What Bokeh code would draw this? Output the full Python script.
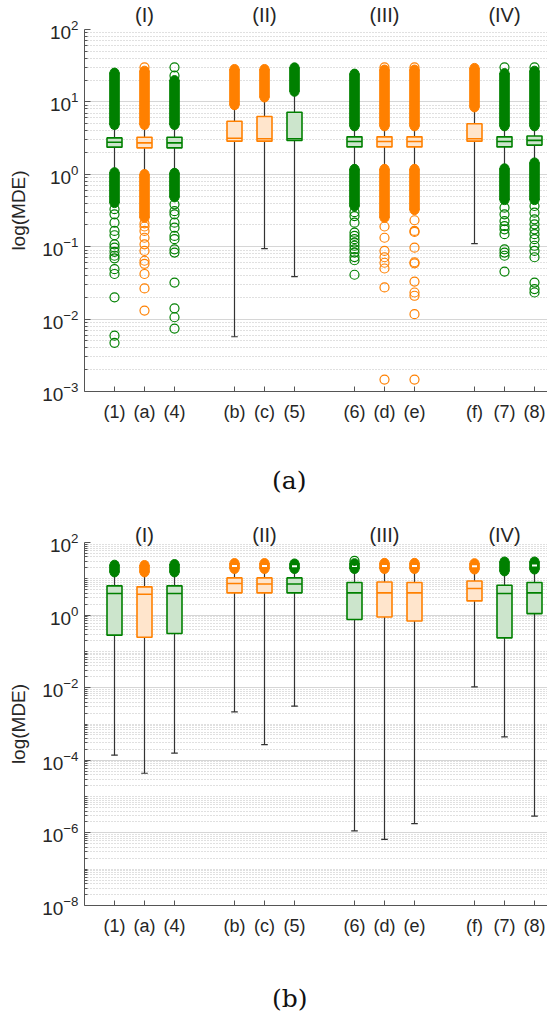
from bokeh.plotting import figure
from bokeh.models import ColumnDataSource, FixedTicker, Range1d, LinearAxis, Div
from bokeh.layouts import column
from bokeh.embed import file_html
from bokeh.resources import INLINE

# ---------------- data ----------------
labels = ["(1)", "(a)", "(4)", "(b)", "(c)", "(5)", "(6)", "(d)", "(e)", "(f)", "(7)", "(8)"]
positions = [1, 2, 3, 5, 6, 7, 9, 10, 11, 13, 14, 15]
series = ["g", "o", "g", "o", "o", "g", "g", "o", "o", "o", "g", "g"]
groups = ["(I)", "(II)", "(III)", "(IV)"]
group_pos = [2, 6, 10, 14]

# panel (a)
a_q1 = [2.37, 2.32, 2.32, 2.87, 2.87, 2.93, 2.39, 2.39, 2.39, 2.87, 2.39, 2.53]
a_med = [2.77, 2.72, 2.72, 3.15, 3.10, 3.10, 2.84, 2.84, 2.84, 3.10, 2.84, 2.94]
a_q3 = [3.18, 3.25, 3.25, 5.40, 6.30, 7.20, 3.29, 3.29, 3.29, 5.00, 3.29, 3.38]
a_wlo = [1.15, 1.0, 1.0, 0.0057, 0.094, 0.0387, 1.2, 1.2, 1.2, 0.11, 1.25, 1.5]
a_whi = [4.3, 4.6, 4.6, 8.8, 11.0, 13.0, 4.6, 4.6, 4.6, 8.0, 4.6, 4.6]
a_up_lo = [4.8, 4.8, 4.8, 9.0, 11.5, 13.8, 4.6, 4.6, 4.6, 8.4, 4.6, 4.6]
a_up_hi = [25.4, 27.0, 20.0, 28.5, 28.5, 30.0, 24.6, 28.0, 28.0, 29.5, 25.0, 27.0]
a_low_lo = [0.40, 0.25, 0.48, None, None, None, 0.36, 0.25, 0.32, None, 0.44, 0.44]
a_low_hi = [1.07, 1.01, 1.05, None, None, None, 1.19, 1.19, 1.19, None, 1.21, 1.46]
a_hollow = [0, 0, 0, 0, 0, 0, 0, 0, 0, 0, 0, 0]
a_out = [
    [0.33, 0.28, 0.215, 0.165, 0.144, 0.108, 0.097, 0.085, 0.075, 0.069, 0.049, 0.042, 0.020, 0.0059, 0.0047],
    [30, 0.21, 0.19, 0.165, 0.133, 0.108, 0.0875, 0.064, 0.058, 0.042, 0.0265, 0.0131],
    [30, 23, 0.385, 0.31, 0.28, 0.215, 0.183, 0.141, 0.127, 0.092, 0.083, 0.032, 0.0141, 0.0106, 0.0074],
    [],
    [],
    [],
    [0.30, 0.265, 0.215, 0.156, 0.141, 0.127, 0.114, 0.103, 0.092, 0.083, 0.072, 0.065, 0.041],
    [30, 0.19, 0.133, 0.0875, 0.0715, 0.060, 0.050, 0.0274, 0.00146],
    [30, 0.232, 0.165, 0.16, 0.097, 0.061, 0.059, 0.033, 0.0233, 0.021, 0.0117, 0.00146],
    [],
    [30, 0.346, 0.28, 0.226, 0.193, 0.174, 0.149, 0.092, 0.083, 0.075, 0.0454],
    [30, 0.365, 0.295, 0.239, 0.204, 0.174, 0.149, 0.127, 0.103, 0.0875, 0.0715, 0.032, 0.026, 0.0233],
]

# panel (b)
b_q1 = [0.28, 0.246, 0.31, 4.1, 4.1, 4.1, 0.76, 0.89, 0.69, 2.46, 0.236, 1.1]
b_med = [3.94, 3.77, 3.94, 7.4, 7.2, 7.2, 4.1, 4.1, 4.1, 5.4, 3.94, 4.1]
b_q3 = [6.4, 6.0, 6.4, 10.6, 10.6, 10.6, 7.9, 8.2, 7.9, 8.7, 6.67, 7.9]
b_wlo = [1.38e-4, 4.4e-5, 1.58e-4, 2.15e-3, 2.72e-4, 3.1e-3, 1.13e-6, 6.6e-7, 1.8e-6, 1.05e-2, 4.4e-4, 2.9e-6]
b_whi = [14.5, 14.0, 14.5, 18.0, 18.0, 18.0, 18.0, 18.0, 18.0, 17.5, 15.5, 18.0]
b_up_lo = [15.0, 15.0, 15.0, 18.6, 18.6, 18.6, 18.6, 18.6, 18.6, 18.0, 16.0, 18.0]
b_up_hi = [24.5, 24.0, 25.5, 27.2, 27.2, 26.5, 27.0, 27.5, 27.5, 27.0, 30.0, 30.0]
b_low_lo = [None] * 12
b_low_hi = [None] * 12
b_hollow = [0, 0, 0, 1, 1, 1, 1, 1, 1, 1, 0, 1]
b_out = [[], [], [], [], [], [], [31], [], [], [], [], []]

# ---------------- style ----------------
EDGE = {"g": "#008000", "o": "#ff8000"}
FILL = {"g": "#cce5cc", "o": "#ffe5cc"}
FONT = "Liberation Sans"
TXT = "#262626"
UNIT = 30.0  # px per x unit
W = 547
LEFT = 84


def panel(q1, med, q3, wlo, whi, up_lo, up_hi, low_lo, low_hi, hollow, outs,
          e_lo, e_hi, step, top, group_standoff):
    frame_h = 363
    bottom = 39
    p = figure(width=W, height=top + frame_h + bottom,
               x_range=Range1d(0, (W - LEFT) / UNIT),
               y_range=Range1d(10.0 ** e_lo, 10.0 ** e_hi),
               y_axis_type="log", output_backend="svg", toolbar_location=None,
               min_border_left=LEFT, min_border_right=0,
               min_border_top=top, min_border_bottom=bottom)
    p.outline_line_color = None

    major = [10.0 ** e for e in range(e_lo, e_hi + 1, step)]
    minor = sorted(set(k * 10.0 ** e for e in range(e_lo, e_hi) for k in range(1, 10)) - set(major))
    t = FixedTicker(ticks=major, minor_ticks=minor)
    p.yaxis.ticker = t
    p.ygrid.ticker = t
    p.ygrid.grid_line_color = "#d6d6d6"
    p.ygrid.grid_line_width = 1
    p.ygrid.minor_grid_line_color = "#c0c0c0"
    p.ygrid.minor_grid_line_dash = "1 2"
    p.xgrid.visible = False

    p.yaxis.axis_line_color = "#555555"
    p.yaxis.major_tick_in = 6
    p.yaxis.major_tick_out = 0
    p.yaxis.minor_tick_in = 3
    p.yaxis.minor_tick_out = 0
    p.yaxis.major_tick_line_color = "#555555"
    p.yaxis.minor_tick_line_color = "#555555"
    p.yaxis.major_label_text_font = FONT
    p.yaxis.major_label_text_font_size = "19px"
    p.yaxis.major_label_text_color = TXT
    p.yaxis.major_label_standoff = 6
    p.yaxis.axis_label = "log(MDE)"
    p.yaxis.axis_label_text_font = FONT
    p.yaxis.axis_label_text_font_style = "normal"
    p.yaxis.axis_label_text_font_size = "19px"
    p.yaxis.axis_label_text_color = TXT
    p.yaxis.axis_label_standoff = 10

    p.xaxis.ticker = FixedTicker(ticks=positions)
    p.xaxis.major_label_overrides = {pos: lab for pos, lab in zip(positions, labels)}
    p.xaxis.axis_line_color = "#555555"
    p.xaxis.major_tick_in = 5
    p.xaxis.major_tick_out = 0
    p.xaxis.major_tick_line_color = "#555555"
    p.xaxis.minor_tick_line_color = None
    p.xaxis.major_label_text_font = FONT
    p.xaxis.major_label_text_font_size = "18px"
    p.xaxis.major_label_text_color = TXT
    p.xaxis.major_label_standoff = 10

    # group names on an axis above the frame
    gax = LinearAxis(ticker=FixedTicker(ticks=group_pos),
                     major_label_overrides={g: n for g, n in zip(group_pos, groups)})
    gax.axis_line_color = None
    gax.major_tick_line_color = None
    gax.minor_tick_line_color = None
    gax.major_tick_in = 0
    gax.major_tick_out = 0
    gax.major_label_standoff = group_standoff
    gax.major_label_text_font = FONT
    gax.major_label_text_font_size = "20px"
    gax.major_label_text_color = TXT
    p.add_layout(gax, "above")

    edge = [EDGE[s] for s in series]
    fill = [FILL[s] for s in series]
    src = ColumnDataSource(dict(x=positions, q1=q1, med=med, q3=q3, wlo=wlo, whi=whi,
                                xl=[x - 0.25 for x in positions], xr=[x + 0.25 for x in positions],
                                cl=[x - 0.11 for x in positions], cr=[x + 0.11 for x in positions],
                                edge=edge, fill=fill))
    # whiskers + caps
    p.segment(x0="x", y0="wlo", x1="x", y1="whi", source=src, line_color="#333333", line_width=1.2)
    p.segment(x0="cl", y0="wlo", x1="cr", y1="wlo", source=src, line_color="#333333", line_width=1.2)
    p.segment(x0="cl", y0="whi", x1="cr", y1="whi", source=src, line_color="#333333", line_width=1.2)
    # boxes
    p.vbar(x="x", width=0.5, bottom="q1", top="q3", source=src,
           fill_color="fill", line_color="edge", line_width=1.6)
    p.segment(x0="xl", y0="med", x1="xr", y1="med", source=src, line_color="edge", line_width=1.6)

    # dense outlier clusters
    for lo_list, hi_list, holes in ((up_lo, up_hi, hollow), (low_lo, low_hi, [0] * len(positions))):
        xs, los, his, cs, hx, hy = [], [], [], [], [], []
        for x, lo, hi, s, h in zip(positions, lo_list, hi_list, series, holes):
            if lo is None:
                continue
            xs.append(x); los.append(lo); his.append(hi); cs.append(EDGE[s])
            if h:
                hx.append(x); hy.append((lo * hi) ** 0.5)
        if not xs:
            continue
        ds = ColumnDataSource(dict(x=xs, lo=los, hi=his, c=cs))
        p.vbar(x="x", width=0.32, bottom="lo", top="hi", source=ds, fill_color="c", line_color="c")
        p.scatter(x="x", y="lo", size=9, source=ds, fill_color="c", line_color="c")
        p.scatter(x="x", y="hi", size=9, source=ds, fill_color="c", line_color="c")
        if hx:
            p.scatter(x=hx, y=hy, marker="dash", size=5, line_color="white", line_width=2)

    # individual outliers
    ox, oy, oc = [], [], []
    for x, vals, s in zip(positions, outs, series):
        for v in vals:
            ox.append(x); oy.append(v); oc.append(EDGE[s])
    if ox:
        p.scatter(x=ox, y=oy, size=9, fill_color=None, line_color=oc, line_width=1.2)
    return p


def caption(text, height, pad_top):
    return Div(text=('<div style="padding:%dpx 0 0 272px; font-family:\'DejaVu Serif\'; '
                     'font-size:25px; line-height:29px; color:#111111;">%s</div>' % (pad_top, text)),
               width=W, height=height, margin=0)


pa = panel(a_q1, a_med, a_q3, a_wlo, a_whi, a_up_lo, a_up_hi, a_low_lo, a_low_hi, a_hollow, a_out,
           -3, 2, 1, 28, 4)
pb = panel(b_q1, b_med, b_q3, b_wlo, b_whi, b_up_lo, b_up_hi, b_low_lo, b_low_hi, b_hollow, b_out,
           -8, 2, 2, 37, -3)

layout = column(pa, caption("(a)", 75, 36), pb, caption("(b)", 66, 40), spacing=0)
open("out.html", "w").write(file_html(layout, INLINE))
